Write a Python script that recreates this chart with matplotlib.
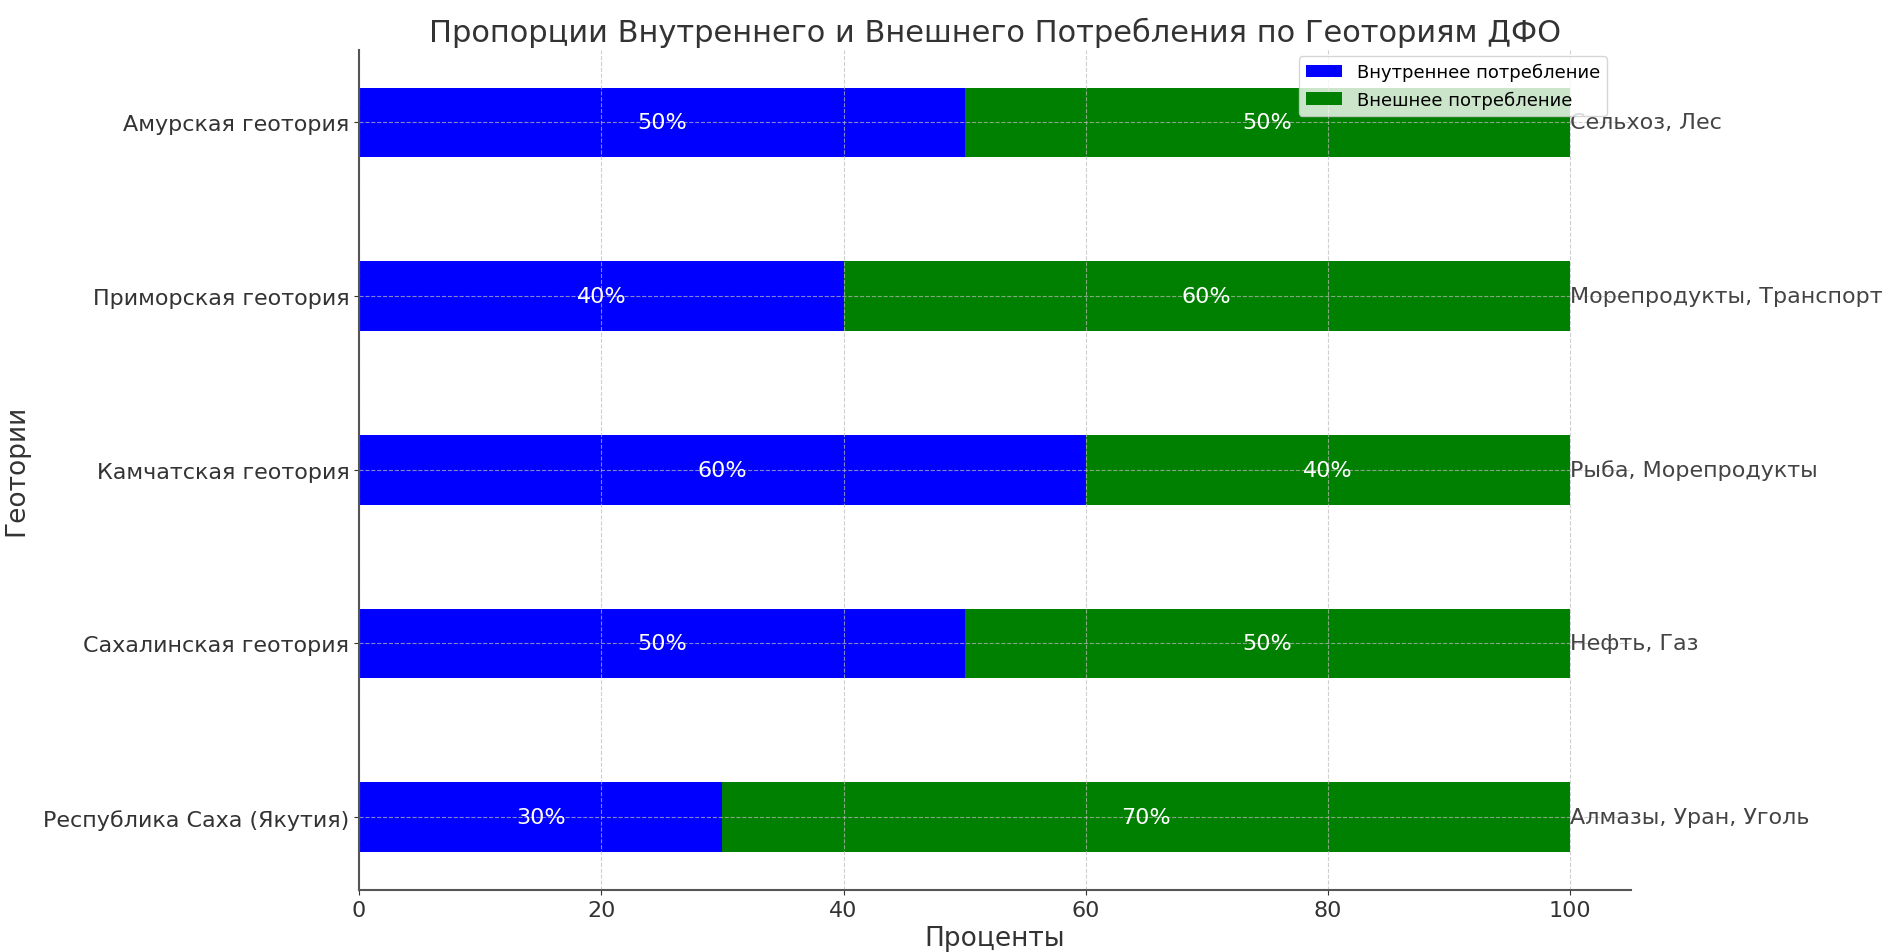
import matplotlib
matplotlib.use("Agg")
import matplotlib.pyplot as plt
import numpy as np

regions = ["Республика Саха (Якутия)", "Сахалинская геотория", "Камчатская геотория",
           "Приморская геотория", "Амурская геотория"]
internal = [30, 50, 60, 40, 50]
external = [70, 50, 40, 60, 50]
sectors = ["Алмазы, Уран, Уголь", "Нефть, Газ", "Рыба, Морепродукты",
           "Морепродукты, Транспорт", "Сельхоз, Лес"]

plt.rcParams['font.family'] = ['DejaVu Sans']
fig = plt.figure(figsize=(18.95, 9.53), dpi=100)
ax = fig.add_axes([0.1895, 0.065, 0.671, 0.882])

y = np.arange(len(regions))
ax.barh(y, internal, height=0.4, color='blue', label='Внутреннее потребление', zorder=1)
ax.barh(y, external, left=internal, height=0.4, color='green', label='Внешнее потребление', zorder=1)

for i in range(len(regions)):
    ax.text(internal[i] / 2, y[i], f"{internal[i]}%", ha='center', va='center',
            color='white', fontsize=16, zorder=4)
    ax.text(internal[i] + external[i] / 2, y[i], f"{external[i]}%", ha='center', va='center',
            color='white', fontsize=16, zorder=4)
    ax.text(internal[i] + external[i], y[i], sectors[i], ha='left', va='center',
            color='#444444', fontsize=16, zorder=4)

ax.set_xlim(0, 105)
ax.set_yticks(y)
ax.set_yticklabels(regions, fontsize=16, color='#333333')
ax.tick_params(axis='x', labelsize=16, colors='#333333')
ax.tick_params(axis='y', colors='#333333')
ax.set_xlabel("Проценты", fontsize=19, color='#333333')
ax.set_ylabel("Геотории", fontsize=19, color='#333333')
ax.yaxis.set_label_coords(-0.259, 0.5)
ax.set_title("Пропорции Внутреннего и Внешнего Потребления по Геоториям ДФО",
             fontsize=22, color='#333333')
ax.grid(True, linestyle='--', color='#bbbbbb', linewidth=0.8, alpha=0.7, zorder=2)
ax.set_axisbelow(False)
for s in ['top', 'right']:
    ax.spines[s].set_visible(False)
for s in ['bottom', 'left']:
    ax.spines[s].set_color('#555555')
    ax.spines[s].set_linewidth(1.5)
    ax.spines[s].set_zorder(3)
ax.legend(loc='upper right', fontsize=13, bbox_to_anchor=(0.9885, 1.003))

fig.savefig("out.png", dpi=100)
